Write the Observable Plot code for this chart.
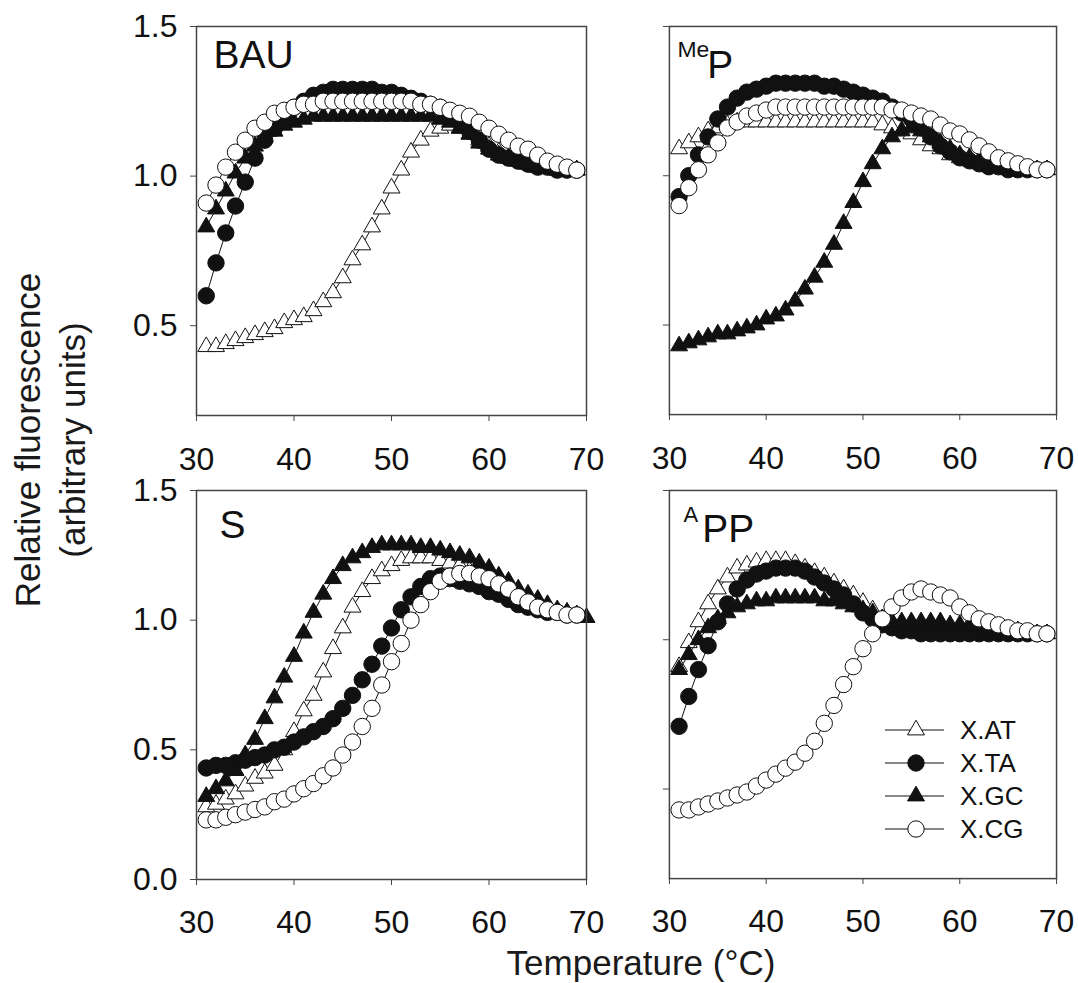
<!DOCTYPE html>
<html><head><meta charset="utf-8">
<script src="https://cdn.jsdelivr.net/npm/d3@7"></script>
<script src="https://cdn.jsdelivr.net/npm/@observablehq/plot@0.6"></script>
<style>
body{margin:0;background:#fff;}
#wrap{position:relative;width:1078px;height:983px;background:#fff;font-family:"Liberation Sans",Arial,sans-serif;color:#1a1a1a;overflow:hidden}
.panel{position:absolute}
.ytitle{position:absolute;left:-160px;top:395px;width:420px;height:90px;transform:rotate(-90deg);text-align:center;font-size:35px;line-height:45px;white-space:nowrap}
.xtitle{position:absolute;left:441px;width:400px;top:945px;text-align:center;font-size:35px;line-height:35px;white-space:nowrap}
#legend{position:absolute;left:875px;top:708px}
</style></head>
<body><div id="wrap">
<div class="ytitle">Relative fluorescence<br>(arbitrary units)</div>
<div class="xtitle">Temperature (°C)</div>
</div>
<script>
// ---------- DATA ----------
const temperature = [31,32,33,34,35,36,37,38,39,40,41,42,43,44,45,46,47,48,49,50,51,52,53,54,55,56,57,58,59,60,61,62,63,64,65,66,67,68,69];
const temperatureLong = [31,32,33,34,35,36,37,38,39,40,41,42,43,44,45,46,47,48,49,50,51,52,53,54,55,56,57,58,59,60,61,62,63,64,65,66,67,68,69,70];
const seriesNames = ["X.AT","X.TA","X.GC","X.CG"];
const xTicks = [30,40,50,60,70];
const yTicksTop = [0.5,1.0,1.5];
const yTicksBottom = [0.0,0.5,1.0,1.5];

// BAU
const bauAT = [0.43,0.43,0.44,0.45,0.46,0.47,0.48,0.49,0.51,0.52, 0.53,0.55,0.58,0.61,0.66,0.72,0.77,0.83,0.89,0.96, 1.02,1.08,1.12,1.15,1.16,1.17,1.16,1.14,1.12,1.10, 1.08,1.06,1.05,1.04,1.03,1.03,1.02,1.02,1.02];
const bauTA = [0.60,0.71,0.81,0.90,0.98,1.06,1.12,1.16,1.20,1.23, 1.25,1.27,1.28,1.29,1.29,1.29,1.29,1.29,1.28,1.28, 1.27,1.26,1.25,1.24,1.23,1.21,1.18,1.15,1.12,1.09, 1.07,1.06,1.05,1.04,1.03,1.03,1.02,1.02,1.02];
const bauGC = [0.83,0.89,0.95,1.01,1.06,1.10,1.13,1.15,1.17,1.18, 1.19,1.20,1.20,1.20,1.20,1.20,1.20,1.20,1.20,1.20, 1.20,1.20,1.20,1.20,1.19,1.18,1.16,1.14,1.11,1.09, 1.07,1.06,1.05,1.04,1.03,1.03,1.02,1.02,1.02];
const bauCG = [0.91,0.97,1.03,1.08,1.12,1.16,1.18,1.21,1.22,1.23, 1.24,1.24,1.25,1.25,1.25,1.25,1.25,1.25,1.25,1.25, 1.25,1.25,1.24,1.24,1.23,1.22,1.21,1.20,1.18,1.16, 1.14,1.12,1.10,1.09,1.07,1.05,1.04,1.03,1.02];
// MeP
const mepAT = [1.09,1.11,1.13,1.15,1.16,1.17,1.18,1.18,1.18,1.18, 1.18,1.18,1.18,1.18,1.18,1.18,1.18,1.18,1.18,1.18, 1.18,1.17,1.16,1.15,1.14,1.12,1.10,1.09,1.07,1.06, 1.05,1.04,1.03,1.03,1.02,1.02,1.02,1.02,1.02];
const mepTA = [0.93,1.00,1.07,1.13,1.19,1.23,1.26,1.28,1.29,1.30, 1.31,1.31,1.31,1.31,1.31,1.30,1.30,1.29,1.28,1.27, 1.26,1.25,1.23,1.21,1.19,1.16,1.13,1.10,1.08,1.06, 1.05,1.04,1.03,1.03,1.02,1.02,1.02,1.02,1.02];
const mepGC = [0.43,0.44,0.45,0.46,0.47,0.47,0.48,0.49,0.50,0.52, 0.53,0.55,0.58,0.62,0.66,0.71,0.77,0.84,0.91,0.98, 1.04,1.09,1.13,1.15,1.16,1.15,1.13,1.11,1.09,1.07, 1.06,1.05,1.04,1.03,1.03,1.02,1.02,1.02,1.02];
const mepCG = [0.90,0.96,1.02,1.07,1.11,1.16,1.18,1.20,1.21,1.22, 1.23,1.23,1.23,1.23,1.23,1.23,1.23,1.23,1.23,1.23, 1.23,1.23,1.22,1.22,1.21,1.20,1.19,1.17,1.15,1.14, 1.12,1.10,1.08,1.06,1.05,1.04,1.03,1.02,1.02];
// S
const sAT = [0.28,0.29,0.31,0.33,0.36,0.39,0.41,0.44,0.50,0.57, 0.65,0.71,0.80,0.89,0.97,1.05,1.11,1.16,1.19,1.21, 1.23,1.24,1.24,1.24,1.23,1.22,1.21,1.19,1.17,1.15, 1.13,1.11,1.09,1.07,1.06,1.04,1.03,1.03,1.02];
const sTA = [0.43,0.44,0.44,0.45,0.46,0.47,0.48,0.50,0.51,0.53, 0.55,0.57,0.59,0.62,0.66,0.71,0.77,0.83,0.90,0.97, 1.04,1.09,1.13,1.16,1.17,1.16,1.15,1.14,1.13,1.11, 1.10,1.08,1.06,1.05,1.04,1.03,1.03,1.02,1.02];
const sGC = [0.32,0.35,0.38,0.42,0.48,0.54,0.62,0.70,0.78,0.86, 0.95,1.03,1.10,1.16,1.21,1.24,1.26,1.28,1.29,1.29, 1.29,1.29,1.28,1.28,1.27,1.26,1.25,1.24,1.22,1.20, 1.17,1.15,1.12,1.10,1.08,1.06,1.04,1.03,1.02,1.01];
const sCG = [0.23,0.23,0.24,0.25,0.26,0.27,0.28,0.30,0.31,0.33, 0.35,0.37,0.40,0.43,0.48,0.53,0.59,0.66,0.75,0.84, 0.91,1.00,1.06,1.11,1.15,1.17,1.18,1.18,1.17,1.16, 1.14,1.12,1.09,1.07,1.05,1.04,1.03,1.02,1.02];
// APP
const appAT = [0.91,0.99,1.06,1.12,1.17,1.21,1.24,1.25,1.26,1.265, 1.265,1.265,1.255,1.24,1.225,1.21,1.19,1.17,1.15,1.125, 1.10,1.07,1.06,1.05,1.05,1.05,1.04,1.04,1.04,1.03, 1.03,1.03,1.03,1.02,1.02,1.02,1.02,1.02,1.02];
const appTA = [0.71,0.81,0.90,0.98,1.06,1.12,1.17,1.20,1.22,1.23, 1.24,1.24,1.24,1.23,1.21,1.19,1.17,1.15,1.12,1.09, 1.07,1.05,1.04,1.03,1.03,1.02,1.02,1.02,1.02,1.02, 1.02,1.02,1.02,1.02,1.02,1.02,1.02,1.02,1.02];
const appGC = [0.90,0.95,1.00,1.04,1.07,1.09,1.11,1.12,1.13,1.13, 1.14,1.14,1.14,1.14,1.14,1.13,1.13,1.12,1.11,1.10, 1.09,1.07,1.06,1.06,1.06,1.06,1.06,1.06,1.05,1.05, 1.05,1.04,1.04,1.03,1.03,1.03,1.02,1.02,1.02];
const appCG = [0.43,0.43,0.44,0.45,0.46,0.47,0.48,0.49,0.51,0.53, 0.55,0.57,0.59,0.62,0.66,0.72,0.78,0.85,0.91,0.97, 1.02,1.07,1.11,1.14,1.16,1.17,1.16,1.15,1.14,1.11, 1.09,1.07,1.06,1.05,1.04,1.03,1.03,1.02,1.02];

// ---------- STYLE ----------
const FONT = '"Liberation Sans", Arial, sans-serif';
const INK = "#111";
const AXIS = "#444";
const seriesStyle = {
  "X.AT": {symbol: "triangle", fill: "white", r: 6.3},
  "X.TA": {symbol: "circle", fill: INK, r: 8.2},
  "X.GC": {symbol: "triangle", fill: INK, r: 6.3},
  "X.CG": {symbol: "circle", fill: "white", r: 8.2}
};

const panels = [
  {series: {"X.AT": [temperature, bauAT], "X.TA": [temperature, bauTA], "X.GC": [temperature, bauGC], "X.CG": [temperature, bauCG]},
   yDomain: [0.2, 1.5], yTicks: yTicksTop, yLabels: true, left: 196, top: 26, w: 390, h: 389, row: 0,
   labels: [{text: "BAU", size: 39, dx: 17, dy: 14}]},
  {series: {"X.AT": [temperature, mepAT], "X.TA": [temperature, mepTA], "X.GC": [temperature, mepGC], "X.CG": [temperature, mepCG]},
   yDomain: [0.2, 1.5], yTicks: yTicksTop, yLabels: false, left: 669, top: 26, w: 388, h: 389, row: 0,
   labels: [{text: "Me", size: 23, dx: 8, dy: 14}, {text: "P", size: 39, dx: 38, dy: 24}]},
  {series: {"X.AT": [temperature, sAT], "X.TA": [temperature, sTA], "X.GC": [temperatureLong, sGC], "X.CG": [temperature, sCG]},
   yDomain: [0, 1.5], yTicks: yTicksBottom, yLabels: true, left: 196, top: 490, w: 390, h: 389, row: 1,
   labels: [{text: "S", size: 39, dx: 23, dy: 20}]},
  {series: {"X.AT": [temperature, appAT], "X.TA": [temperature, appTA], "X.GC": [temperature, appGC], "X.CG": [temperature, appCG]},
   yDomain: [0.2, 1.5], yTicks: yTicksTop, yLabels: false, left: 669, top: 490, w: 388, h: 389, row: 1,
   labels: [{text: "A", size: 22, dx: 14, dy: 16}, {text: "PP", size: 39, dx: 33, dy: 24}]}
];

const wrap = document.getElementById("wrap");

panels.forEach(p => {
  const ml = p.yLabels ? 80 : 40, mr = 22, mt = p.row === 0 ? 20 : 14, mb = 60;
  const marks = [];
  seriesNames.forEach(name => {
    const [ts, vs] = p.series[name];
    const rows = vs.map((v, i) => ({t: ts[i], v}));
    const st = seriesStyle[name];
    marks.push(Plot.line(rows, {x: "t", y: "v", stroke: INK, strokeWidth: 1}));
    marks.push(Plot.dot(rows, {x: "t", y: "v", symbol: () => st.symbol, r: st.r, fill: st.fill, stroke: INK, strokeWidth: 1}));
  });
  p.labels.forEach(l => {
    marks.push(Plot.text([l.text], {text: d => d, frameAnchor: "top-left", textAnchor: "start", lineAnchor: "top",
      dx: l.dx, dy: l.dy, fontSize: l.size, fill: INK}));
  });
  marks.push(Plot.axisX(xTicks, {anchor: "bottom", tickSize: 6, tickPadding: p.row === 0 ? 26 : 25, fontSize: 32,
    stroke: AXIS, fill: INK, label: null, tickFormat: d => String(d)}));
  marks.push(Plot.axisY(p.yTicks, {anchor: "left", tickSize: 6, tickPadding: 13, fontSize: 32,
    stroke: AXIS, fill: INK, label: null, tickFormat: p.yLabels ? d3.format(".1f") : () => ""}));
  marks.push(Plot.frame({stroke: AXIS, strokeWidth: 1.5}));

  const chart = Plot.plot({
    width: ml + p.w + mr,
    height: mt + p.h + mb,
    marginLeft: ml, marginRight: mr, marginTop: mt, marginBottom: mb,
    x: {domain: [30, 70]},
    y: {domain: p.yDomain},
    style: {fontFamily: FONT, background: "transparent", overflow: "visible", color: INK},
    marks
  });
  const holder = document.createElement("div");
  holder.className = "panel";
  holder.style.left = (p.left - ml) + "px";
  holder.style.top = (p.top - mt) + "px";
  holder.appendChild(chart);
  wrap.appendChild(holder);
});

// ---------- LEGEND ----------
const leg = d3.select(wrap).append("svg").attr("id", "legend").attr("width", 200).attr("height", 140)
  .style("overflow", "visible");
seriesNames.forEach((name, i) => {
  const st = seriesStyle[name];
  const g = leg.append("g").attr("transform", `translate(0,${22 + 33 * i})`);
  g.append("line").attr("x1", 10).attr("x2", 69).attr("y1", 0).attr("y2", 0).attr("stroke", INK).attr("stroke-width", 1);
  g.append("path").attr("transform", "translate(41,0)")
    .attr("d", d3.symbol().type(st.symbol === "triangle" ? d3.symbolTriangle : d3.symbolCircle).size(Math.PI * st.r * st.r)())
    .attr("fill", st.fill).attr("stroke", INK).attr("stroke-width", 1);
  g.append("text").attr("x", 85).attr("y", 0).attr("dy", "0.35em").attr("font-size", 26)
    .attr("font-family", FONT).attr("fill", INK).text(name);
});
</script>
</body></html>
